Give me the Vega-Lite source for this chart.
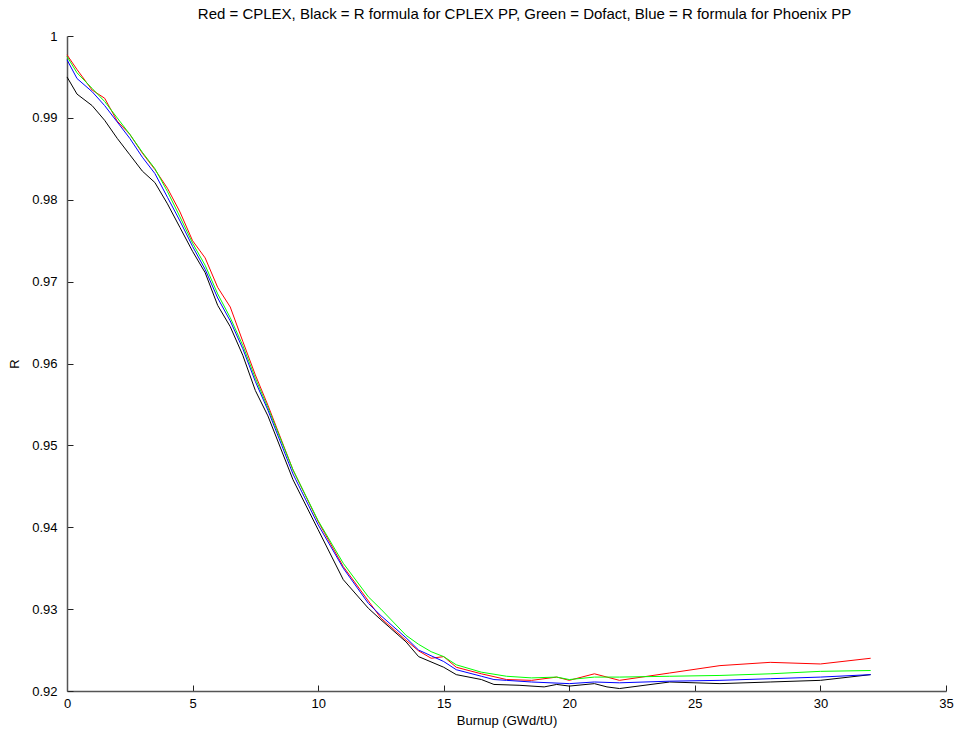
{
  "$schema": "https://vega.github.io/schema/vega-lite/v6.json",
  "autosize": {"type": "none"},
  "padding": {"left": 67, "top": 36, "right": 14, "bottom": 47},
  "width": 879,
  "height": 655,
  "background": "white",
  "title": {
    "text": "Red = CPLEX, Black = R formula for CPLEX PP, Green = Dofact, Blue = R formula for Phoenix PP",
    "font": "Liberation Sans",
    "fontSize": 15,
    "fontWeight": "normal",
    "color": "#000",
    "anchor": "middle",
    "dx": 18,
    "offset": 8
  },
  "datasets": {
    "red": [
      {"x": 0, "y": 0.9977}, {"x": 0.4, "y": 0.9959}, {"x": 1, "y": 0.9934}, {"x": 1.5, "y": 0.9924},
      {"x": 2, "y": 0.9896}, {"x": 2.5, "y": 0.988}, {"x": 3, "y": 0.9857}, {"x": 3.5, "y": 0.9837},
      {"x": 4, "y": 0.9814}, {"x": 4.5, "y": 0.9785}, {"x": 5, "y": 0.975}, {"x": 5.5, "y": 0.9729},
      {"x": 6, "y": 0.9693}, {"x": 6.5, "y": 0.9669}, {"x": 7, "y": 0.9627}, {"x": 7.5, "y": 0.9586},
      {"x": 8, "y": 0.9549}, {"x": 9, "y": 0.947}, {"x": 10, "y": 0.9407}, {"x": 11, "y": 0.9352},
      {"x": 12, "y": 0.931}, {"x": 12.5, "y": 0.9289}, {"x": 13.5, "y": 0.9262}, {"x": 14, "y": 0.9249},
      {"x": 14.5, "y": 0.924}, {"x": 15, "y": 0.9242}, {"x": 15.5, "y": 0.9229}, {"x": 16.5, "y": 0.9221},
      {"x": 17.5, "y": 0.9214}, {"x": 18.5, "y": 0.9213}, {"x": 19.5, "y": 0.9217}, {"x": 20, "y": 0.9213},
      {"x": 21, "y": 0.9221}, {"x": 21.5, "y": 0.9217}, {"x": 22, "y": 0.9213}, {"x": 24, "y": 0.9222},
      {"x": 26, "y": 0.9231}, {"x": 28, "y": 0.9235}, {"x": 30, "y": 0.9233}, {"x": 32, "y": 0.924}
    ],
    "black": [
      {"x": 0, "y": 0.995}, {"x": 0.4, "y": 0.9929}, {"x": 1, "y": 0.9915}, {"x": 1.5, "y": 0.9897},
      {"x": 2, "y": 0.9875}, {"x": 2.5, "y": 0.9855}, {"x": 3, "y": 0.9835}, {"x": 3.5, "y": 0.9821},
      {"x": 4, "y": 0.9795}, {"x": 4.5, "y": 0.9766}, {"x": 5, "y": 0.9737}, {"x": 5.5, "y": 0.9711},
      {"x": 6, "y": 0.9671}, {"x": 6.5, "y": 0.9645}, {"x": 7, "y": 0.961}, {"x": 7.5, "y": 0.9567},
      {"x": 8, "y": 0.9536}, {"x": 9, "y": 0.9458}, {"x": 10, "y": 0.9397}, {"x": 11, "y": 0.9336},
      {"x": 12, "y": 0.9301}, {"x": 12.5, "y": 0.9287}, {"x": 13.5, "y": 0.926}, {"x": 14, "y": 0.9242},
      {"x": 15, "y": 0.9229}, {"x": 15.5, "y": 0.922}, {"x": 16.5, "y": 0.9214}, {"x": 17, "y": 0.9208},
      {"x": 18, "y": 0.9207}, {"x": 19, "y": 0.9205}, {"x": 19.5, "y": 0.9208}, {"x": 20, "y": 0.9206},
      {"x": 21, "y": 0.9209}, {"x": 21.5, "y": 0.9205}, {"x": 22, "y": 0.9203}, {"x": 24, "y": 0.9211},
      {"x": 26, "y": 0.9209}, {"x": 28, "y": 0.9211}, {"x": 30, "y": 0.9213}, {"x": 32, "y": 0.922}
    ],
    "green": [
      {"x": 0, "y": 0.9975}, {"x": 0.4, "y": 0.9955}, {"x": 1, "y": 0.9936}, {"x": 1.5, "y": 0.992},
      {"x": 2, "y": 0.99}, {"x": 2.5, "y": 0.988}, {"x": 3, "y": 0.9858}, {"x": 3.5, "y": 0.9838},
      {"x": 4, "y": 0.981}, {"x": 4.5, "y": 0.9779}, {"x": 5, "y": 0.9747}, {"x": 5.5, "y": 0.972},
      {"x": 6, "y": 0.9685}, {"x": 6.5, "y": 0.9656}, {"x": 7, "y": 0.9622}, {"x": 7.5, "y": 0.9582},
      {"x": 8, "y": 0.9546}, {"x": 9, "y": 0.947}, {"x": 10, "y": 0.9408}, {"x": 11, "y": 0.9356},
      {"x": 12, "y": 0.9315}, {"x": 12.5, "y": 0.93}, {"x": 13.5, "y": 0.9268}, {"x": 14, "y": 0.9257},
      {"x": 14.5, "y": 0.9248}, {"x": 15, "y": 0.9242}, {"x": 15.5, "y": 0.9232}, {"x": 16.5, "y": 0.9223},
      {"x": 17.5, "y": 0.9218}, {"x": 18.5, "y": 0.9216}, {"x": 19.5, "y": 0.9217}, {"x": 20, "y": 0.9214},
      {"x": 21, "y": 0.9217}, {"x": 22, "y": 0.9217}, {"x": 24, "y": 0.9218}, {"x": 26, "y": 0.9219},
      {"x": 28, "y": 0.9221}, {"x": 30, "y": 0.9224}, {"x": 32, "y": 0.9225}
    ],
    "blue": [
      {"x": 0, "y": 0.9971}, {"x": 0.4, "y": 0.9948}, {"x": 1, "y": 0.9932}, {"x": 1.5, "y": 0.9915},
      {"x": 2, "y": 0.9895}, {"x": 2.5, "y": 0.9875}, {"x": 3, "y": 0.9852}, {"x": 3.5, "y": 0.9832},
      {"x": 4, "y": 0.9803}, {"x": 4.5, "y": 0.9774}, {"x": 5, "y": 0.9743}, {"x": 5.5, "y": 0.9715},
      {"x": 6, "y": 0.968}, {"x": 6.5, "y": 0.9652}, {"x": 7, "y": 0.9618}, {"x": 7.5, "y": 0.9578},
      {"x": 8, "y": 0.9543}, {"x": 9, "y": 0.9465}, {"x": 10, "y": 0.9403}, {"x": 11, "y": 0.935},
      {"x": 12, "y": 0.9307}, {"x": 12.5, "y": 0.9292}, {"x": 13.5, "y": 0.9265}, {"x": 14, "y": 0.925},
      {"x": 15, "y": 0.9236}, {"x": 15.5, "y": 0.9226}, {"x": 16.5, "y": 0.9218}, {"x": 17, "y": 0.9214},
      {"x": 17.5, "y": 0.9213}, {"x": 18.5, "y": 0.9211}, {"x": 20, "y": 0.9209}, {"x": 21, "y": 0.9211},
      {"x": 22, "y": 0.921}, {"x": 24, "y": 0.9212}, {"x": 26, "y": 0.9213}, {"x": 28, "y": 0.9215},
      {"x": 30, "y": 0.9217}, {"x": 32, "y": 0.922}
    ]
  },
  "config": {
    "view": {"stroke": null},
    "axis": {
      "labelFont": "Liberation Sans",
      "labelFontSize": 13,
      "labelColor": "#000",
      "labelFlush": false,
      "labelOverlap": false,
      "titleFont": "Liberation Sans",
      "titleFontSize": 13,
      "titleFontWeight": "normal",
      "titleColor": "#000",
      "domainColor": "#555",
      "domainWidth": 1.5,
      "tickColor": "#222",
      "tickSize": -6,
      "grid": false
    }
  },
  "encoding": {
    "x": {
      "field": "x",
      "type": "quantitative",
      "scale": {"domain": [0, 35], "nice": false, "zero": false},
      "axis": {"title": "Burnup (GWd/tU)", "values": [0, 5, 10, 15, 20, 25, 30, 35], "labelPadding": 12, "titlePadding": 4}
    },
    "y": {
      "field": "y",
      "type": "quantitative",
      "scale": {"domain": [0.92, 1], "nice": false, "zero": false},
      "axis": {"title": "R", "values": [0.92, 0.93, 0.94, 0.95, 0.96, 0.97, 0.98, 0.99, 1], "format": ".2~f", "labelPadding": 16, "titlePadding": 10}
    }
  },
  "layer": [
    {"data": {"name": "red"}, "mark": {"type": "line", "color": "#ff0000", "strokeWidth": 1}},
    {"data": {"name": "black"}, "mark": {"type": "line", "color": "#000000", "strokeWidth": 1}},
    {"data": {"name": "green"}, "mark": {"type": "line", "color": "#00ff00", "strokeWidth": 1}},
    {"data": {"name": "blue"}, "mark": {"type": "line", "color": "#0000ff", "strokeWidth": 1}}
  ]
}
